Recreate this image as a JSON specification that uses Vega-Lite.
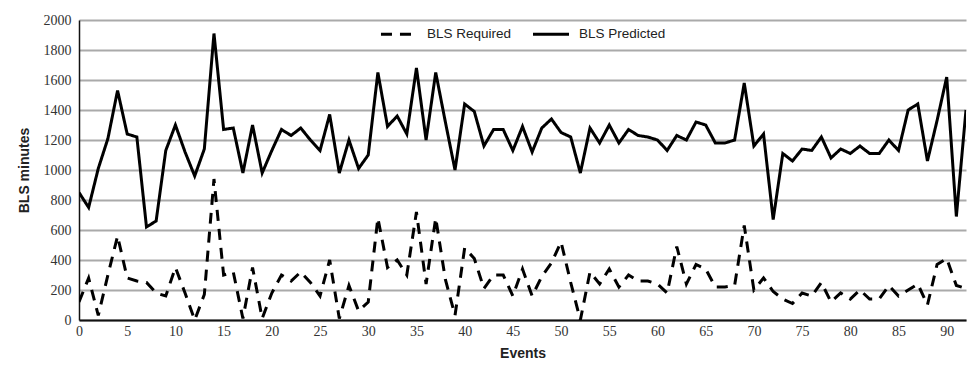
{
  "$schema": "https://vega.github.io/schema/vega-lite/v6.json",
  "autosize": {"type": "none"},
  "width": 887,
  "height": 300,
  "padding": {"left": 79, "top": 20, "right": 3, "bottom": 53},
  "background": "white",
  "config": {
    "view": {"stroke": null},
    "font": "Liberation Sans Narrow",
    "axis": {"labelFont": "Liberation Sans Narrow", "titleFont": "Liberation Sans", "labelColor": "#333", "titleColor": "#222"}
  },
  "data": {
    "values": [
      {"event":0,"BLS Required":120,"BLS Predicted":850},
      {"event":1,"BLS Required":280,"BLS Predicted":750},
      {"event":2,"BLS Required":30,"BLS Predicted":1010},
      {"event":3,"BLS Required":300,"BLS Predicted":1210},
      {"event":4,"BLS Required":560,"BLS Predicted":1530},
      {"event":5,"BLS Required":280,"BLS Predicted":1240},
      {"event":6,"BLS Required":260,"BLS Predicted":1220},
      {"event":7,"BLS Required":250,"BLS Predicted":620},
      {"event":8,"BLS Required":180,"BLS Predicted":660},
      {"event":9,"BLS Required":160,"BLS Predicted":1130},
      {"event":10,"BLS Required":350,"BLS Predicted":1300},
      {"event":11,"BLS Required":180,"BLS Predicted":1120},
      {"event":12,"BLS Required":0,"BLS Predicted":960},
      {"event":13,"BLS Required":170,"BLS Predicted":1140},
      {"event":14,"BLS Required":940,"BLS Predicted":1910},
      {"event":15,"BLS Required":300,"BLS Predicted":1270},
      {"event":16,"BLS Required":320,"BLS Predicted":1280},
      {"event":17,"BLS Required":10,"BLS Predicted":980},
      {"event":18,"BLS Required":350,"BLS Predicted":1300},
      {"event":19,"BLS Required":10,"BLS Predicted":980},
      {"event":20,"BLS Required":180,"BLS Predicted":1130},
      {"event":21,"BLS Required":300,"BLS Predicted":1270},
      {"event":22,"BLS Required":260,"BLS Predicted":1230},
      {"event":23,"BLS Required":320,"BLS Predicted":1280},
      {"event":24,"BLS Required":250,"BLS Predicted":1200},
      {"event":25,"BLS Required":160,"BLS Predicted":1130},
      {"event":26,"BLS Required":400,"BLS Predicted":1370},
      {"event":27,"BLS Required":10,"BLS Predicted":980},
      {"event":28,"BLS Required":230,"BLS Predicted":1200},
      {"event":29,"BLS Required":60,"BLS Predicted":1010},
      {"event":30,"BLS Required":120,"BLS Predicted":1100},
      {"event":31,"BLS Required":680,"BLS Predicted":1650},
      {"event":32,"BLS Required":350,"BLS Predicted":1290},
      {"event":33,"BLS Required":400,"BLS Predicted":1360},
      {"event":34,"BLS Required":300,"BLS Predicted":1240},
      {"event":35,"BLS Required":720,"BLS Predicted":1680},
      {"event":36,"BLS Required":240,"BLS Predicted":1200},
      {"event":37,"BLS Required":680,"BLS Predicted":1650},
      {"event":38,"BLS Required":270,"BLS Predicted":1320},
      {"event":39,"BLS Required":30,"BLS Predicted":1000},
      {"event":40,"BLS Required":480,"BLS Predicted":1440},
      {"event":41,"BLS Required":410,"BLS Predicted":1390},
      {"event":42,"BLS Required":210,"BLS Predicted":1160},
      {"event":43,"BLS Required":300,"BLS Predicted":1270},
      {"event":44,"BLS Required":300,"BLS Predicted":1270},
      {"event":45,"BLS Required":160,"BLS Predicted":1130},
      {"event":46,"BLS Required":340,"BLS Predicted":1290},
      {"event":47,"BLS Required":160,"BLS Predicted":1120},
      {"event":48,"BLS Required":290,"BLS Predicted":1280},
      {"event":49,"BLS Required":380,"BLS Predicted":1340},
      {"event":50,"BLS Required":520,"BLS Predicted":1250},
      {"event":51,"BLS Required":250,"BLS Predicted":1220},
      {"event":52,"BLS Required":0,"BLS Predicted":980},
      {"event":53,"BLS Required":320,"BLS Predicted":1280},
      {"event":54,"BLS Required":240,"BLS Predicted":1180},
      {"event":55,"BLS Required":340,"BLS Predicted":1300},
      {"event":56,"BLS Required":220,"BLS Predicted":1180},
      {"event":57,"BLS Required":300,"BLS Predicted":1270},
      {"event":58,"BLS Required":260,"BLS Predicted":1230},
      {"event":59,"BLS Required":260,"BLS Predicted":1220},
      {"event":60,"BLS Required":240,"BLS Predicted":1200},
      {"event":61,"BLS Required":180,"BLS Predicted":1130},
      {"event":62,"BLS Required":490,"BLS Predicted":1230},
      {"event":63,"BLS Required":240,"BLS Predicted":1200},
      {"event":64,"BLS Required":370,"BLS Predicted":1320},
      {"event":65,"BLS Required":340,"BLS Predicted":1300},
      {"event":66,"BLS Required":220,"BLS Predicted":1180},
      {"event":67,"BLS Required":220,"BLS Predicted":1180},
      {"event":68,"BLS Required":230,"BLS Predicted":1200},
      {"event":69,"BLS Required":630,"BLS Predicted":1580},
      {"event":70,"BLS Required":200,"BLS Predicted":1160},
      {"event":71,"BLS Required":280,"BLS Predicted":1240},
      {"event":72,"BLS Required":190,"BLS Predicted":670},
      {"event":73,"BLS Required":140,"BLS Predicted":1110},
      {"event":74,"BLS Required":110,"BLS Predicted":1060},
      {"event":75,"BLS Required":180,"BLS Predicted":1140},
      {"event":76,"BLS Required":160,"BLS Predicted":1130},
      {"event":77,"BLS Required":250,"BLS Predicted":1220},
      {"event":78,"BLS Required":120,"BLS Predicted":1080},
      {"event":79,"BLS Required":180,"BLS Predicted":1140},
      {"event":80,"BLS Required":140,"BLS Predicted":1110},
      {"event":81,"BLS Required":200,"BLS Predicted":1160},
      {"event":82,"BLS Required":140,"BLS Predicted":1110},
      {"event":83,"BLS Required":140,"BLS Predicted":1110},
      {"event":84,"BLS Required":230,"BLS Predicted":1200},
      {"event":85,"BLS Required":160,"BLS Predicted":1130},
      {"event":86,"BLS Required":200,"BLS Predicted":1400},
      {"event":87,"BLS Required":240,"BLS Predicted":1440},
      {"event":88,"BLS Required":100,"BLS Predicted":1060},
      {"event":89,"BLS Required":370,"BLS Predicted":1330},
      {"event":90,"BLS Required":410,"BLS Predicted":1620},
      {"event":91,"BLS Required":230,"BLS Predicted":690},
      {"event":92,"BLS Required":210,"BLS Predicted":1400}
    ]
  },
  "transform": [
    {"fold": ["BLS Required", "BLS Predicted"], "as": ["series", "minutes"]}
  ],
  "mark": {"type": "line", "strokeWidth": 3, "color": "black", "clip": true, "strokeJoin": "miter"},
  "encoding": {
    "x": {
      "field": "event", "type": "quantitative",
      "scale": {"domain": [0, 92], "nice": false, "zero": false},
      "axis": {
        "title": "Events", "titleFontSize": 14, "titleFontWeight": "bold", "titlePadding": 8,
        "values": [0,5,10,15,20,25,30,35,40,45,50,55,60,65,70,75,80,85,90],
        "labelFontSize": 14, "labelPadding": 4, "ticks": false, "grid": false,
        "domainColor": "#111", "domainWidth": 2, "labelFlush": false
      }
    },
    "y": {
      "field": "minutes", "type": "quantitative",
      "scale": {"domain": [0, 2000], "nice": false},
      "axis": {
        "title": "BLS minutes", "titleFontSize": 14, "titleFontWeight": "bold", "titlePadding": 12,
        "values": [0,200,400,600,800,1000,1200,1400,1600,1800,2000], "format": "d",
        "labelFontSize": 14, "labelPadding": 8, "ticks": false,
        "grid": true, "gridColor": "#aaaaaa", "gridWidth": 2,
        "domainColor": "#111", "domainWidth": 1.5
      }
    },
    "strokeDash": {
      "field": "series", "type": "nominal",
      "scale": {"domain": ["BLS Required", "BLS Predicted"], "range": [[11, 8], [1, 0]]},
      "legend": {
        "title": null, "orient": "none", "direction": "horizontal",
        "legendX": 300, "legendY": -6,
        "symbolType": "stroke", "symbolStrokeWidth": 3, "symbolSize": 1300,
        "symbolStrokeColor": "black",
        "labelFontSize": 13.5, "labelFont": "Liberation Sans", "labelColor": "#222",
        "columnPadding": 14, "labelOffset": 8
      }
    },
    "detail": {"field": "series"}
  }
}
